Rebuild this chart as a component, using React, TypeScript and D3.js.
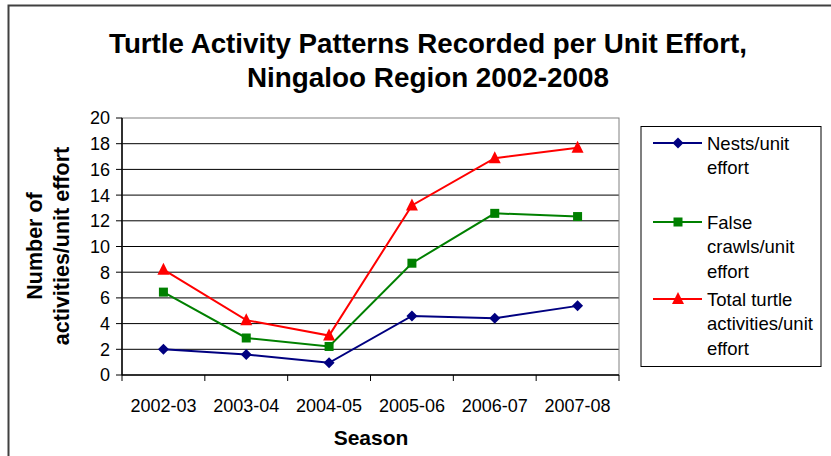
import React from "react";
import * as d3 from "d3";

const seasons = ["2002-03", "2003-04", "2004-05", "2005-06", "2006-07", "2007-08"];
const nests = [2.0, 1.6, 0.95, 4.6, 4.42, 5.38];
const falseCrawls = [6.45, 2.88, 2.22, 8.7, 12.58, 12.33];
const totalActivities = [8.2, 4.27, 3.07, 13.2, 16.87, 17.68];
const yTicks = [0, 2, 4, 6, 8, 10, 12, 14, 16, 18, 20];

const titleLines = ["Turtle Activity Patterns Recorded per Unit Effort,", "Ningaloo Region 2002-2008"];
const yTitleLines = ["Number of", "activities/unit effort"];
const xTitle = "Season";

const seriesNames = [
  ["Nests/unit", "effort"],
  ["False", "crawls/unit", "effort"],
  ["Total turtle", "activities/unit", "effort"],
];
const seriesColors = ["#000080", "#008000", "#FF0000"];
const seriesMarkers = ["diamond", "square", "triangle"];
const seriesData = [nests, falseCrawls, totalActivities];

const FONT = "'Liberation Sans', Arial, sans-serif";

function Marker({ type, x, y, color }: { type: string; x: number; y: number; color: string }) {
  if (type === "diamond") {
    const s = 5.5;
    return <path d={`M${x},${y - s}L${x + s},${y}L${x},${y + s}L${x - s},${y}Z`} fill={color} />;
  }
  if (type === "square") {
    const s = 4.5;
    return <rect x={x - s} y={y - s} width={2 * s} height={2 * s} fill={color} />;
  }
  const s = 6;
  return <path d={`M${x},${y - s - 1}L${x + s},${y + s - 1}L${x - s},${y + s - 1}Z`} fill={color} />;
}

export default function App() {
  const W = 831, H = 456;
  const left = 122, right = 619, top = 118, bottom = 375;
  const x = d3.scaleBand<string>().domain(seasons).range([left, right]);
  const y = d3.scaleLinear().domain([0, 20]).range([bottom, top]);
  const cx = (s: string) => (x(s) as number) + x.bandwidth() / 2;
  const line = d3.line<number>().x((_, i) => cx(seasons[i])).y((v) => y(v));

  const legendRowY = [143, 222, 299];
  const lh = 24.5;
  const titleWidths = [638, 362];

  return (
    <svg width={W} height={H} style={{ position: "absolute", left: 0, top: 0 }} fontFamily={FONT}>
      <rect x={0} y={0} width={W} height={H} fill="#fff" />
      <path d={`M8.5,${H + 5}V5.5H${W + 5}`} fill="none" stroke="#404040" strokeWidth={2} />
      {titleLines.map((t, i) => (
        <text
          key={i}
          x={428}
          y={53 + i * 34}
          textAnchor="middle"
          fontSize={28}
          fontWeight="bold"
          fill="#000"
          textLength={titleWidths[i]}
          lengthAdjust="spacingAndGlyphs"
        >
          {t}
        </text>
      ))}
      {/* gridlines */}
      {yTicks.filter((t) => t > 0 && t < 20).map((t) => (
        <line key={t} x1={left} x2={right} y1={y(t)} y2={y(t)} stroke="#000" strokeWidth={1} />
      ))}
      <rect x={left} y={top} width={right - left} height={bottom - top} fill="none" stroke="#808080" strokeWidth={1} />
      {/* y axis */}
      <line x1={left} x2={left} y1={top} y2={bottom} stroke="#000" strokeWidth={1.5} />
      {yTicks.map((t) => (
        <g key={t}>
          <line x1={left - 6} x2={left} y1={y(t)} y2={y(t)} stroke="#000" />
          <text x={110} y={y(t)} dy="0.36em" textAnchor="end" fontSize={18} fill="#000">
            {t}
          </text>
        </g>
      ))}
      {/* x axis */}
      <line x1={left} x2={right} y1={bottom} y2={bottom} stroke="#000" strokeWidth={1.5} />
      {[...seasons.map((s) => x(s) as number), right].map((px, i) => (
        <line key={i} x1={px} x2={px} y1={bottom} y2={bottom + 6} stroke="#000" />
      ))}
      {seasons.map((s) => (
        <text key={s} x={cx(s)} y={412} textAnchor="middle" fontSize={18} fill="#000">
          {s}
        </text>
      ))}
      <text x={371} y={445} textAnchor="middle" fontSize={21} fontWeight="bold" fill="#000">
        {xTitle}
      </text>
      {yTitleLines.map((t, i) => (
        <text key={i} transform={`translate(${42 + i * 27},246) rotate(-90)`} textAnchor="middle" fontSize={21.5} fontWeight="bold" fill="#000">
          {t}
        </text>
      ))}
      {/* series */}
      {seriesData.map((data, si) => (
        <g key={si}>
          <path d={line(data) as string} fill="none" stroke={seriesColors[si]} strokeWidth={2} />
          {data.map((v, i) => (
            <Marker key={i} type={seriesMarkers[si]} x={cx(seasons[i])} y={y(v)} color={seriesColors[si]} />
          ))}
        </g>
      ))}
      {/* legend */}
      <rect x={641} y={126.5} width={180} height={240} fill="#fff" stroke="#000" strokeWidth={1} />
      {seriesNames.map((lines, si) => (
        <g key={si}>
          <line x1={653} x2={702} y1={legendRowY[si]} y2={legendRowY[si]} stroke={seriesColors[si]} strokeWidth={2} />
          <Marker type={seriesMarkers[si]} x={678} y={legendRowY[si]} color={seriesColors[si]} />
          {lines.map((t, li) => (
            <text key={li} x={707} y={legendRowY[si] + li * lh} dy="0.36em" fontSize={18.5} fill="#000">
              {t}
            </text>
          ))}
        </g>
      ))}
    </svg>
  );
}
